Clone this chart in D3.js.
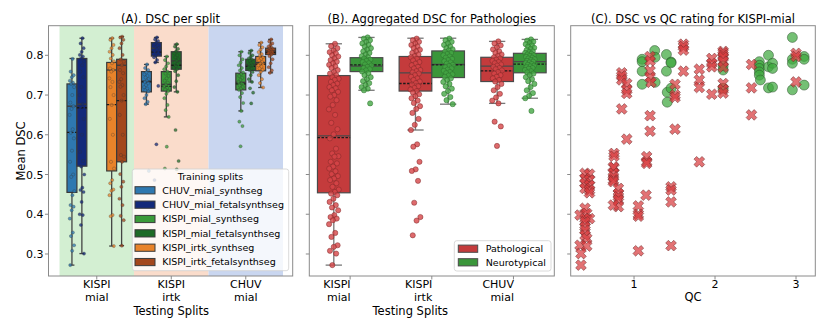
<!DOCTYPE html>
<html><head><meta charset="utf-8">
<script src="https://cdn.jsdelivr.net/npm/d3@7"></script>
<style>body{margin:0;background:#fff}svg{display:block;font-family:"DejaVu Sans",sans-serif}</style>
</head><body><div id="chart"></div>
<script>
// ---------------- DATA ----------------
const testSplits = [["KISPI","mial"],["KISPI","irtk"],["CHUV","mial"]];
const trainSplits = ["CHUV_mial_synthseg","CHUV_mial_fetalsynthseg","KISPI_mial_synthseg","KISPI_mial_fetalsynthseg","KISPI_irtk_synthseg","KISPI_irtk_fetalsynthseg"];
const trainColors = ["#2e78b0","#13297a","#3a9a3a","#1d6b26","#e8832a","#a3471c"];
const bandColors = ["#d3efd2","#fadccb","#c9d6f0"];
const yTicks = [0.3,0.4,0.5,0.6,0.7,0.8];
const qcTicks = [1,2,3];

// Panel A box stats: [lowWhisker, q1, median, q3, highWhisker, mean] (null = not tested)
const statsA_KISPImial = [[0.272,0.455,0.672,0.728,0.792,0.606],[0.301,0.521,0.677,0.792,0.843,0.668],null,null,[0.320,0.509,0.763,0.782,0.843,0.676],[0.321,0.532,0.775,0.790,0.847,0.686]];
const statsA_KISPIirtk = [[0.677,0.708,0.735,0.759,0.777,0.733],[0.782,0.798,0.818,0.832,0.845,0.808],[0.645,0.710,0.727,0.759,0.797,0.722],[0.708,0.765,0.786,0.809,0.828,0.775],null,null];
const statsA_CHUVmial = [null,null,[0.660,0.713,0.732,0.755,0.809,0.728],[0.733,0.762,0.776,0.790,0.812,0.772],[0.719,0.761,0.782,0.797,0.832,0.778],[0.756,0.802,0.811,0.818,0.840,0.807]];

// Panel A strip points
const ptsA_KISPImial = [
 [0.791,0.759,0.75,0.745,0.736,0.731,0.728,0.72,0.70,0.681,0.672,0.665,0.65,0.614,0.605,0.591,0.56,0.532,0.50,0.494,0.458,0.448,0.423,0.419,0.41,0.389,0.354,0.345,0.322,0.308,0.272],
 [0.843,0.83,0.818,0.809,0.801,0.797,0.792,0.785,0.775,0.759,0.745,0.72,0.70,0.677,0.671,0.64,0.6,0.557,0.534,0.52,0.50,0.467,0.461,0.456,0.431,0.40,0.398,0.373,0.301],
 [],[],
 [0.843,0.839,0.826,0.818,0.809,0.801,0.792,0.785,0.78,0.767,0.763,0.759,0.742,0.733,0.72,0.70,0.675,0.64,0.6,0.532,0.515,0.486,0.478,0.462,0.459,0.448,0.398,0.395,0.32],
 [0.847,0.845,0.839,0.83,0.818,0.801,0.79,0.784,0.775,0.763,0.755,0.74,0.733,0.725,0.721,0.70,0.686,0.65,0.6,0.549,0.545,0.532,0.501,0.482,0.469,0.439,0.423,0.396,0.385,0.321]];
const ptsA_KISPIirtk = [
 [0.777,0.768,0.763,0.757,0.752,0.748,0.744,0.74,0.736,0.733,0.729,0.725,0.72,0.716,0.712,0.709,0.70,0.692,0.683,0.677,0.509],
 [0.845,0.84,0.836,0.832,0.828,0.824,0.82,0.818,0.815,0.81,0.806,0.80,0.795,0.788,0.782,0.723,0.576,0.486],
 [0.797,0.788,0.78,0.772,0.765,0.759,0.754,0.748,0.742,0.736,0.731,0.726,0.722,0.718,0.714,0.71,0.703,0.692,0.675,0.662,0.645,0.570,0.515],
 [0.828,0.822,0.816,0.81,0.805,0.8,0.795,0.79,0.786,0.782,0.778,0.773,0.768,0.765,0.76,0.75,0.735,0.72,0.708,0.612,0.534,0.513],
 [],[]];
const ptsA_CHUVmial = [
 [],[],
 [0.809,0.8,0.79,0.782,0.775,0.768,0.762,0.757,0.753,0.748,0.743,0.738,0.733,0.729,0.724,0.72,0.716,0.713,0.705,0.695,0.68,0.66,0.633,0.622,0.571],
 [0.812,0.806,0.8,0.796,0.792,0.789,0.786,0.783,0.78,0.777,0.775,0.772,0.769,0.766,0.763,0.758,0.75,0.74,0.733,0.717,0.706,0.679],
 [0.832,0.826,0.82,0.814,0.808,0.803,0.799,0.795,0.791,0.787,0.783,0.779,0.775,0.771,0.767,0.763,0.758,0.75,0.74,0.73,0.719],
 [0.84,0.835,0.83,0.826,0.822,0.819,0.817,0.815,0.813,0.811,0.809,0.807,0.805,0.802,0.798,0.79,0.78,0.77,0.762,0.756]];

// Panel B
const pathoGroups = ["Pathological","Neurotypical"];
const pathoColors = ["#c43b3c","#3a963a"];
const pathoPtColors = ["#d64547","#45a845"];
const statsB_path = [[0.272,0.454,0.597,0.749,0.829,0.593],[0.612,0.710,0.756,0.797,0.843,0.729],[0.679,0.734,0.773,0.795,0.835,0.761]];
const statsB_neuro = [[0.712,0.759,0.773,0.794,0.845,0.776],[0.677,0.744,0.777,0.811,0.843,0.776],[0.692,0.756,0.784,0.805,0.840,0.778]];
const ptsB_path = [
 [0.829,0.823,0.818,0.812,0.808,0.805,0.8,0.797,0.792,0.788,0.784,0.78,0.776,0.772,0.768,0.763,0.758,0.754,0.75,0.745,0.741,0.738,0.733,0.729,0.725,0.72,0.717,0.712,0.708,0.7,0.696,0.687,0.675,0.664,0.65,0.63,0.614,0.601,0.591,0.565,0.553,0.546,0.545,0.532,0.528,0.52,0.515,0.508,0.501,0.496,0.49,0.486,0.478,0.469,0.462,0.456,0.452,0.448,0.439,0.431,0.423,0.417,0.41,0.398,0.393,0.389,0.385,0.375,0.353,0.343,0.322,0.318,0.308,0.301,0.272],
 [0.842,0.838,0.834,0.83,0.826,0.822,0.818,0.814,0.81,0.806,0.802,0.798,0.795,0.791,0.787,0.783,0.779,0.775,0.771,0.767,0.763,0.76,0.757,0.754,0.75,0.746,0.742,0.738,0.734,0.73,0.726,0.722,0.718,0.714,0.71,0.706,0.702,0.697,0.692,0.686,0.68,0.672,0.665,0.655,0.64,0.625,0.612,0.576,0.570,0.532,0.513,0.509,0.484,0.429,0.393,0.384,0.347],
 [0.835,0.83,0.825,0.82,0.815,0.81,0.806,0.802,0.798,0.795,0.792,0.789,0.786,0.783,0.78,0.777,0.774,0.771,0.768,0.765,0.762,0.758,0.754,0.75,0.746,0.742,0.738,0.734,0.728,0.72,0.712,0.703,0.694,0.686,0.679,0.633,0.621,0.572]];
const ptsB_neuro = [
 [0.845,0.842,0.838,0.834,0.83,0.826,0.822,0.818,0.814,0.81,0.806,0.802,0.798,0.795,0.792,0.789,0.786,0.783,0.78,0.777,0.774,0.771,0.768,0.765,0.762,0.759,0.755,0.75,0.745,0.74,0.735,0.73,0.725,0.72,0.716,0.712,0.679],
 [0.842,0.838,0.834,0.83,0.826,0.822,0.818,0.815,0.812,0.809,0.806,0.803,0.8,0.797,0.794,0.791,0.788,0.785,0.782,0.779,0.776,0.773,0.77,0.767,0.764,0.761,0.758,0.755,0.752,0.749,0.746,0.742,0.738,0.733,0.728,0.722,0.716,0.71,0.703,0.695,0.687,0.677],
 [0.84,0.837,0.834,0.831,0.828,0.825,0.822,0.819,0.816,0.813,0.81,0.808,0.806,0.804,0.802,0.8,0.798,0.796,0.794,0.792,0.79,0.788,0.786,0.784,0.782,0.78,0.778,0.776,0.774,0.772,0.77,0.768,0.766,0.763,0.76,0.757,0.754,0.75,0.745,0.74,0.735,0.728,0.72,0.712,0.705,0.698,0.692,0.66]];

// Panel C: QC rating vs DSC (KISPI-mial)
const qcPatho = [0.848,0.848,0.848,0.91,0.91,0.91,0.848,0.91,0.753,0.753,0.753,1.198,1.198,1.198,1.198,1.21,1.198,1.198,1.156,1.156,1.156,1.506,1.506,1.506,1.506,1.61,1.61,1.61,1.61,1.806,1.806,1.806,1.806,1.96,1.96,1.96,1.96,2.10,2.10,2.10,2.10,2.10,2.10,2.10,2.10,2.10,2.45,2.45,2.45,3.0,3.0,3.0,0.745,0.745,0.745,0.745,0.745,0.807,0.807,0.807,0.807,0.807,0.745,1.148,1.053,1.053,1.053,1.053,1.457,1.457,1.457,1.457,0.395,0.45,0.395,0.45,0.395,0.45,0.395,0.45,0.45,0.395,0.333,0.416,0.395,0.45,0.395,0.395,0.395,0.395,0.416,0.333,0.416,0.345,0.345];
const dscPatho = [0.756,0.748,0.738,0.729,0.713,0.704,0.665,0.589,0.553,0.546,0.517,0.797,0.786,0.761,0.744,0.732,0.648,0.609,0.545,0.532,0.528,0.727,0.700,0.694,0.614,0.828,0.822,0.813,0.760,0.765,0.738,0.719,0.532,0.792,0.780,0.771,0.702,0.810,0.806,0.800,0.795,0.785,0.770,0.729,0.714,0.705,0.777,0.718,0.650,0.805,0.797,0.733,0.519,0.503,0.494,0.486,0.482,0.465,0.452,0.444,0.436,0.419,0.423,0.448,0.421,0.400,0.395,0.308,0.469,0.461,0.431,0.321,0.503,0.501,0.490,0.486,0.478,0.473,0.465,0.461,0.454,0.415,0.398,0.402,0.389,0.389,0.381,0.368,0.360,0.347,0.339,0.322,0.320,0.301,0.272];
const qcNeuro = [1.10,1.10,1.10,1.10,1.255,1.26,1.26,1.40,1.457,1.457,1.40,1.41,1.41,1.457,2.10,2.10,2.10,2.547,2.547,2.547,2.547,2.547,2.56,2.66,2.66,2.71,2.71,2.66,2.71,2.955,2.955,2.955,2.955,3.10,3.10,3.10];
const dscNeuro = [0.790,0.784,0.760,0.727,0.812,0.795,0.732,0.802,0.783,0.781,0.760,0.707,0.682,0.717,0.773,0.763,0.717,0.784,0.775,0.767,0.758,0.750,0.738,0.800,0.771,0.780,0.767,0.718,0.720,0.845,0.790,0.780,0.713,0.797,0.790,0.725];

// ---------------- DRAW ----------------
const W=830,H=332, yTop=25.7, yBot=276;
const svg=d3.select("#chart").append("svg").attr("width",W).attr("height",H);
svg.append("rect").attr("width",W).attr("height",H).attr("fill","#fff");
const y=d3.scaleLinear().domain([0.2446,0.8745]).range([yBot,yTop]);
const spine="#8a8a8a", FS=11.5, FT=11, L1=288, L2=301, LX=314.5;
const jit=(i,w)=>((((i+1)*0.6180339887)%1)-0.5)*w;

function drawBox(g,cx,w,s,fill,edge,wcol){
  const [lo,q1,med,q3,hi,mean]=s;
  g.append("line").attr("x1",cx).attr("x2",cx).attr("y1",y(hi)).attr("y2",y(q3)).attr("stroke",wcol).attr("stroke-width",1.3);
  g.append("line").attr("x1",cx).attr("x2",cx).attr("y1",y(q1)).attr("y2",y(lo)).attr("stroke",wcol).attr("stroke-width",1.3);
  g.append("line").attr("x1",cx-w/4).attr("x2",cx+w/4).attr("y1",y(hi)).attr("y2",y(hi)).attr("stroke",wcol).attr("stroke-width",1.3);
  g.append("line").attr("x1",cx-w/4).attr("x2",cx+w/4).attr("y1",y(lo)).attr("y2",y(lo)).attr("stroke",wcol).attr("stroke-width",1.3);
  g.append("rect").attr("x",cx-w/2).attr("y",y(q3)).attr("width",w).attr("height",y(q1)-y(q3)).attr("fill",fill).attr("stroke",edge).attr("stroke-width",1.2);
  g.append("line").attr("x1",cx-w/2).attr("x2",cx+w/2).attr("y1",y(med)).attr("y2",y(med)).attr("stroke",edge).attr("stroke-width",1.3);
  g.append("line").attr("x1",cx-w/2).attr("x2",cx+w/2).attr("y1",y(mean)).attr("y2",y(mean)).attr("stroke","#1a1a1a").attr("stroke-width",1.3).attr("stroke-dasharray","2.5,1.5");
}
function frame(x0,x1){
  svg.append("rect").attr("x",x0).attr("y",yTop).attr("width",x1-x0).attr("height",yBot-yTop).attr("fill","none").attr("stroke",spine).attr("stroke-width",1);
}
function yTicksAt(x0,labels){
  yTicks.forEach(t=>{
    svg.append("line").attr("x1",x0-3.5).attr("x2",x0).attr("y1",y(t)).attr("y2",y(t)).attr("stroke",spine);
    if(labels) svg.append("text").attr("x",x0-5).attr("y",y(t)+4).attr("text-anchor","end").attr("font-size",FT).text(t.toFixed(1));
  });
}

// ---- Panel A ----
const xA=d3.scaleLinear().domain([-0.648,2.63]).range([48.5,292.7]);
const gA=svg.append("g");
bandColors.forEach((c,i)=>gA.append("rect").attr("x",xA(i-0.5)).attr("y",yTop).attr("width",xA(i+0.5)-xA(i-0.5)).attr("height",yBot-yTop).attr("fill",c));
const statsA=[statsA_KISPImial,statsA_KISPIirtk,statsA_CHUVmial];
const ptsA=[ptsA_KISPImial,ptsA_KISPIirtk,ptsA_CHUVmial];
const hw=0.8/6;
statsA.forEach((grp,gi)=>grp.forEach((s,hi)=>{
  if(!s) return;
  const cx=xA(gi-0.4+hw/2+hi*hw), w=xA(hw)-xA(0);
  drawBox(gA,cx,w,s,trainColors[hi],"#3a3a3a","#444");
}));
ptsA.forEach((grp,gi)=>grp.forEach((arr,hi)=>{
  const cx=xA(gi-0.4+hw/2+hi*hw);
  arr.forEach((v,i)=>gA.append("circle").attr("cx",cx+jit(i,5)).attr("cy",y(v)).attr("r",1.6)
    .attr("fill",trainColors[hi]).attr("fill-opacity",0.75).attr("stroke","#333").attr("stroke-width",0.4).attr("stroke-opacity",0.7));
}));
frame(48.5,292.7);
yTicksAt(48.5,true);
testSplits.forEach((lab,i)=>{
  const cx=xA(i);
  svg.append("line").attr("x1",cx).attr("x2",cx).attr("y1",yBot).attr("y2",yBot+3.5).attr("stroke",spine);
  svg.append("text").attr("x",cx).attr("y",L1).attr("text-anchor","middle").attr("font-size",FT).text(lab[0]);
  svg.append("text").attr("x",cx).attr("y",L2).attr("text-anchor","middle").attr("font-size",FT).text(lab[1]);
});
svg.append("text").attr("x",xA(1)).attr("y",LX).attr("text-anchor","middle").attr("font-size",FS).text("Testing Splits");
svg.append("text").attr("transform","translate(25,151) rotate(-90)").attr("text-anchor","middle").attr("font-size",FS).text("Mean DSC");
svg.append("text").attr("x",(48.5+292.7)/2).attr("y",22.5).attr("text-anchor","middle").attr("font-size",FS).text("(A). DSC per split");
// legend A
const lgA=svg.append("g");
lgA.append("rect").attr("x",132.3).attr("y",169).attr("width",156.4).attr("height",101.7).attr("rx",2.5).attr("fill","#fff").attr("fill-opacity",0.8).attr("stroke","#d0d0d0").attr("stroke-width",0.8);
lgA.append("text").attr("x",210.5).attr("y",179.5).attr("text-anchor","middle").attr("font-size",9.5).text("Training splits");
trainSplits.forEach((n,i)=>{
  const cy=190.3+i*14.35;
  lgA.append("rect").attr("x",135).attr("y",cy-3.6).attr("width",20).attr("height",7.2).attr("fill",trainColors[i]).attr("stroke","#3a3a3a").attr("stroke-width",1);
  lgA.append("text").attr("x",162.3).attr("y",cy+3.4).attr("font-size",9.5).text(n);
});

// ---- Panel B ----
const xB=d3.scaleLinear().domain([-0.5,2.5]).range([309.3,554.3]);
const gB=svg.append("g");
const bw=xB(0.4)-xB(0);
[statsB_path,statsB_neuro].forEach((arr,k)=>arr.forEach((s,gi)=>{
  drawBox(gB,xB(gi+(k===0?-0.2:0.2)),bw,s,pathoColors[k],"#4a4a4a","#777");
}));
[ptsB_path,ptsB_neuro].forEach((arr,k)=>arr.forEach((vals,gi)=>{
  const cx=xB(gi+(k===0?-0.2:0.2));
  vals.forEach((v,i)=>gB.append("circle").attr("cx",cx+jit(i,10)).attr("cy",y(v)).attr("r",2.6)
    .attr("fill",pathoPtColors[k]).attr("fill-opacity",0.8).attr("stroke",k===0?"#7a2526":"#2b6b2b").attr("stroke-width",0.6).attr("stroke-opacity",0.8));
}));
frame(309.3,554.3);
yTicksAt(309.3,false);
testSplits.forEach((lab,i)=>{
  const cx=xB(i);
  svg.append("line").attr("x1",cx).attr("x2",cx).attr("y1",yBot).attr("y2",yBot+3.5).attr("stroke",spine);
  svg.append("text").attr("x",cx+0.5).attr("y",L1).attr("text-anchor","end").attr("font-size",FT).text(lab[0]);
  svg.append("text").attr("x",cx+0.5).attr("y",L2).attr("text-anchor","end").attr("font-size",FT).text(lab[1]);
});
svg.append("text").attr("x",xB(1)-(xB(1)-xB(0.5))/1.9).attr("y",LX).attr("text-anchor","middle").attr("font-size",FS).text("Testing Splits");
svg.append("text").attr("x",(309.3+554.3)/2).attr("y",22.5).attr("text-anchor","middle").attr("font-size",FS).text("(B). Aggregated DSC for Pathologies");
const lgB=svg.append("g");
lgB.append("rect").attr("x",454.3).attr("y",240.7).attr("width",96.7).attr("height",30.3).attr("rx",2.5).attr("fill","#fff").attr("fill-opacity",0.8).attr("stroke","#d0d0d0").attr("stroke-width",0.8);
pathoGroups.forEach((n,i)=>{
  const cy=248.7+i*13.6;
  lgB.append("rect").attr("x",458.3).attr("y",cy-3.6).attr("width",19.4).attr("height",7.2).attr("fill",pathoColors[i]).attr("stroke","#4a4a4a").attr("stroke-width",1);
  lgB.append("text").attr("x",485.7).attr("y",cy+3.4).attr("font-size",9.5).text(n);
});

// ---- Panel C ----
const xC=d3.scaleLinear().domain([0.218,3.238]).range([570.7,815.3]);
const gC=svg.append("g");
const circ=d3.symbol().type(d3.symbolCircle).size(Math.PI*25);
const cross=d3.symbol().type(d3.symbolCross).size(72);
qcNeuro.forEach((q,i)=>gC.append("path").attr("d",circ()).attr("transform",`translate(${xC(q)},${y(dscNeuro[i])})`)
  .attr("fill","#3fa73f").attr("fill-opacity",0.72).attr("stroke","#2a4a2a").attr("stroke-width",0.6).attr("stroke-opacity",0.8));
qcPatho.forEach((q,i)=>gC.append("path").attr("d",cross()).attr("transform",`translate(${xC(q)},${y(dscPatho[i])}) rotate(45)`)
  .attr("fill","#d83c3f").attr("fill-opacity",0.72).attr("stroke","#6a2a2a").attr("stroke-width",0.6).attr("stroke-opacity",0.8));
frame(570.7,815.3);
yTicksAt(570.7,false);
qcTicks.forEach(t=>{
  svg.append("line").attr("x1",xC(t)).attr("x2",xC(t)).attr("y1",yBot).attr("y2",yBot+3.5).attr("stroke",spine);
  svg.append("text").attr("x",xC(t)).attr("y",L1).attr("text-anchor","middle").attr("font-size",FT).text(t);
});
svg.append("text").attr("x",(570.7+815.3)/2).attr("y",301).attr("text-anchor","middle").attr("font-size",FS).text("QC");
svg.append("text").attr("x",(570.7+815.3)/2).attr("y",22.5).attr("text-anchor","middle").attr("font-size",FS).text("(C). DSC vs QC rating for KISPI-mial");
</script></body></html>
